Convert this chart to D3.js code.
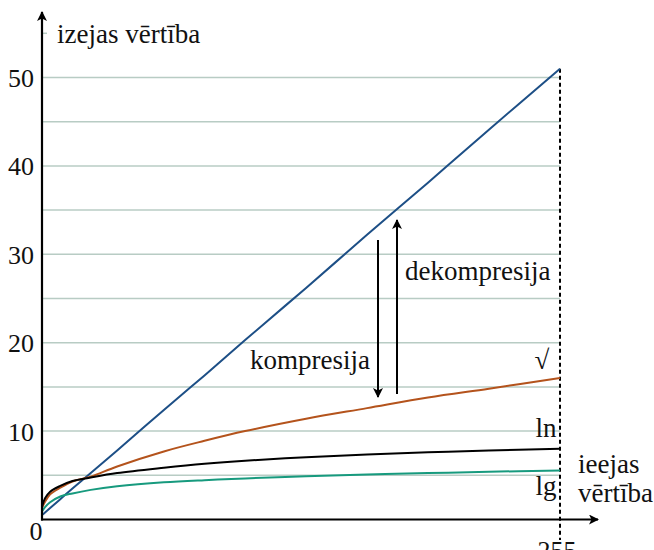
<!doctype html>
<html>
<head>
<meta charset="UTF-8">
<title>kompresija</title>
<script src="https://d3js.org/d3.v7.min.js"></script>
<style>
  body { margin: 0; background: #fff; }
</style>
</head>
<body>
<script>
// values
var inputs   = [0, 1.5, 4, 9, 15, 24, 37, 60, 80, 100, 130, 160, 190, 220, 255];
var linVals  = [0.5, 0.8, 1.3, 2.3, 3.5, 5.25, 7.8, 12.4, 16.3, 20.3, 26.2, 32.2, 38.1, 44.1, 51];
var sqrtVals = [1.3, 2.0, 2.85, 3.6, 4.3, 4.85, 6.0, 7.7, 8.9, 10.0, 11.4, 12.6, 13.8, 14.8, 16.0];
var lnVals   = [1.45, 2.4, 3.15, 3.8, 4.35, 4.75, 5.25, 5.85, 6.3, 6.65, 7.05, 7.35, 7.6, 7.8, 8.0];
var lgVals   = [0.9, 1.4, 1.95, 2.6, 2.95, 3.35, 3.75, 4.2, 4.45, 4.65, 4.9, 5.1, 5.25, 5.4, 5.55];
var yTicks   = [10, 20, 30, 40, 50];
var gridVals = [5, 10, 15, 20, 25, 30, 35, 40, 45, 50];

var serif = "Liberation Serif";

var svg = d3.select("body").append("svg")
    .attr("width", 654)
    .attr("height", 550);

var x = d3.scaleLinear().domain([0, 255]).range([42, 560]);
var y = d3.scaleLinear().domain([0, 50]).range([519.5, 77.5]);

var defs = svg.append("defs");
defs.append("marker")
    .attr("id", "arr")
    .attr("viewBox", "0 0 10 10")
    .attr("refX", 9).attr("refY", 5)
    .attr("markerWidth", 10).attr("markerHeight", 10)
    .attr("markerUnits", "userSpaceOnUse")
    .attr("orient", "auto")
  .append("path")
    .attr("d", "M0,0 L10,5 L0,10 L2.5,5 Z")
    .attr("fill", "#000");

// grid
svg.append("g").selectAll("line").data(gridVals).enter().append("line")
    .attr("x1", x(0)).attr("x2", x(255))
    .attr("y1", function(d){ return y(d); })
    .attr("y2", function(d){ return y(d); })
    .attr("stroke", "#b8ccc4").attr("stroke-width", 1.5);
svg.append("line")
    .attr("x1", x(0)).attr("x2", x(0) + 5)
    .attr("y1", y(55)).attr("y2", y(55))
    .attr("stroke", "#b8ccc4").attr("stroke-width", 1.5);

// dotted line at 255
svg.append("line")
    .attr("x1", x(255)).attr("x2", x(255))
    .attr("y1", y(51)).attr("y2", 540)
    .attr("stroke", "#000").attr("stroke-width", 2)
    .attr("stroke-dasharray", "4,3");

// curves
var series = [
    { vals: linVals,  color: "#1d4f86" },
    { vals: sqrtVals, color: "#b4531c" },
    { vals: lnVals,   color: "#000" },
    { vals: lgVals,   color: "#179a7e" }
];
var line = d3.line().curve(d3.curveCatmullRom.alpha(0.5));
series.forEach(function(s){
    var pts = inputs.map(function(v, i){ return [x(v), y(s.vals[i])]; });
    svg.append("path")
        .attr("d", line(pts))
        .attr("fill", "none")
        .attr("stroke", s.color)
        .attr("stroke-width", 2);
});

// axes
svg.append("line")
    .attr("x1", x(0)).attr("x2", x(0))
    .attr("y1", y(0) + 1).attr("y2", 12)
    .attr("stroke", "#000").attr("stroke-width", 2.2)
    .attr("marker-end", "url(#arr)");
svg.append("line")
    .attr("x1", x(0) - 1).attr("x2", 598)
    .attr("y1", y(0)).attr("y2", y(0))
    .attr("stroke", "#000").attr("stroke-width", 2.2)
    .attr("marker-end", "url(#arr)");

function label(px, py, str, anchor, size){
    return svg.append("text")
        .attr("x", px).attr("y", py)
        .attr("text-anchor", anchor || "start")
        .attr("font-family", serif)
        .attr("font-size", size || 27)
        .attr("fill", "#111")
        .text(str);
}

// tick labels
svg.append("g").selectAll("text").data(yTicks).enter().append("text")
    .attr("x", 34)
    .attr("y", function(d){ return y(d) + 9.5; })
    .attr("text-anchor", "end")
    .attr("font-family", serif)
    .attr("font-size", 26)
    .attr("fill", "#111")
    .text(function(d){ return d; });
label(36, 540, "0", "middle", 26);
label(557, 559, "255", "middle", 26);

// axis titles
label(57, 43, "izejas vērtība");
label(578, 473, "ieejas");
label(578, 502, "vērtība");

// curve labels
label(542, 369, "√", "middle");
label(546, 437, "ln", "middle");
label(546, 495, "lg", "middle");

// compression arrows
svg.append("line")
    .attr("x1", 378).attr("x2", 378).attr("y1", 240).attr("y2", 397)
    .attr("stroke", "#000").attr("stroke-width", 2)
    .attr("marker-end", "url(#arr)");
svg.append("line")
    .attr("x1", 397).attr("x2", 397).attr("y1", 394).attr("y2", 220)
    .attr("stroke", "#000").attr("stroke-width", 2)
    .attr("marker-end", "url(#arr)");
label(250, 369, "kompresija");
label(405, 280, "dekompresija");
</script>
</body>
</html>
